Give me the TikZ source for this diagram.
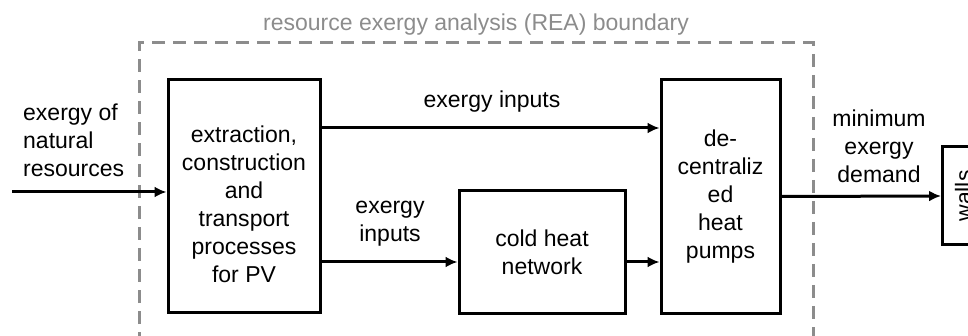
\documentclass[tikz,border=0pt]{standalone}
\usepackage{fontspec}
\setmainfont{Liberation Sans}
\usetikzlibrary{arrows.meta,positioning}
\definecolor{boundgray}{HTML}{8C8C8C}
\tikzset{
  procbox/.style={draw, line width=3pt, align=center, inner sep=0pt},
  flowlabel/.style={align=center, inner sep=0pt},
}
\begin{document}
\begin{tikzpicture}[x=1pt, y=-1pt, >={Latex[length=12pt,width=11pt]},
    font=\fontsize{23}{28}\selectfont]
  \useasboundingbox (0,0) rectangle (968,336);
  \clip (0,0) rectangle (968,336);
  % REA boundary
  \draw[boundgray, line width=3pt, dash pattern=on 13pt off 8pt]
    (139,345) -- (139,43) -- (813,43) -- (813,345);
  \node[flowlabel, text=boundgray] (title) at (476,25) {resource exergy analysis (REA) boundary};
  % processes
  \node[procbox, minimum width=152pt, minimum height=232pt,
    label={[flowlabel, yshift=-8pt]center:{extraction,\\construction\\and\\transport\\processes\\for PV}}]
    (extract) at (244,196) {};
  \node[procbox, minimum width=166pt, minimum height=122pt] (cold) at (542,252)
    {cold heat\\network};
  \node[procbox, minimum width=119pt, minimum height=233pt] (pumps) at (720.5,196.5)
    {de-\\centraliz\\ed\\heat\\pumps};
  \node[procbox, rotate=90, anchor=north, minimum width=98pt, minimum height=42pt] (walls) at (941,196)
    {walls};
  % flows
  \coordinate (src) at (12,192);
  \draw[->, line width=3pt] (src) -- (src -| extract.west);
  \node[flowlabel, align=left, anchor=west] (natural) at (23,140) {exergy of\\natural\\resources};
  \draw[->, line width=3pt] ([yshift=68pt]extract.east) -- ([yshift=68pt]extract.east -| pumps.west);
  \node[flowlabel] (intop) at (492,102) {exergy inputs};
  \draw[->, line width=3pt] ([yshift=-66pt]extract.east) -- ([yshift=-66pt]extract.east -| cold.west);
  \node[flowlabel] (inlow) at (390,224) {exergy\\inputs};
  \draw[->, line width=3pt] ([yshift=-10pt]cold.east) -- ([yshift=-10pt]cold.east -| pumps.west);
  \draw[->, line width=3pt] (pumps.east) -- (walls.north);
  \node[flowlabel] (demand) at (879,146) {minimum\\exergy\\demand};
\end{tikzpicture}
\end{document}
